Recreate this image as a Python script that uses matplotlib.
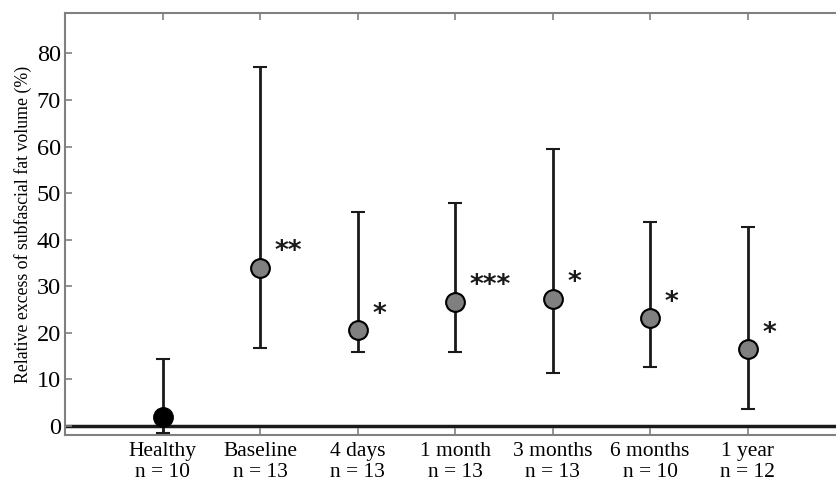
import matplotlib.pyplot as plt

groups = ["Healthy", "Baseline", "4 days", "1 month", "3 months", "6 months", "1 year"]
n_sizes = [10, 13, 13, 13, 13, 10, 12]
means = [2.0, 34.0, 20.6, 26.7, 27.3, 23.1, 16.5]
upper = [14.4, 77.0, 46.0, 47.9, 59.4, 43.7, 42.8]
lower = [-1.6, 16.8, 15.9, 15.9, 11.3, 12.7, 3.6]
stars = ["", "**", "*", "***", "*", "*", "*"]

fig = plt.figure(figsize=(8.36, 4.83), dpi=100)
ax = fig.add_axes([0.0778, 0.0994, 0.933, 0.8731])

ax.axhline(0, color="#1a1a1a", lw=2.5, zorder=1)

for i in range(len(groups)):
    face = "black" if i == 0 else "#808080"
    ax.errorbar(i, means[i], yerr=[[means[i] - lower[i]], [upper[i] - means[i]]],
                fmt="o", color="#1a1a1a", ecolor="#1a1a1a", elinewidth=2,
                capsize=5, capthick=2, markersize=13.5, markerfacecolor=face,
                markeredgecolor="black", markeredgewidth=1.5, zorder=3)
    if stars[i]:
        ax.text(i + 0.15, means[i] + 3.3, stars[i], fontsize=19, family="DejaVu Sans",
                fontweight="bold", ha="left", va="center", color="#1a1a1a")

ax.set_xlim(-1, 7)
ax.set_ylim(-1.93, 88.6)
ax.set_xticks(range(len(groups)))
ax.set_xticklabels([g + "\nn = " + str(n) for g, n in zip(groups, n_sizes)],
                   family="Liberation Serif", fontsize=15.5, linespacing=1.15)
ax.set_yticks(range(0, 90, 10))
ax.set_yticklabels([str(v) for v in range(0, 90, 10)], family="Liberation Serif", fontsize=17.5)
ax.set_ylabel("Relative excess of subfascial fat volume (%)", family="Liberation Serif",
              fontsize=12.8, labelpad=3)

for s in ax.spines.values():
    s.set_color("#808080")
    s.set_linewidth(1.5)
ax.tick_params(direction="in", length=5, color="#808080", width=1.2,
               top=True, right=True, pad=3)
ax.tick_params(axis="x", pad=5)

fig.savefig("out.png", dpi=100)
